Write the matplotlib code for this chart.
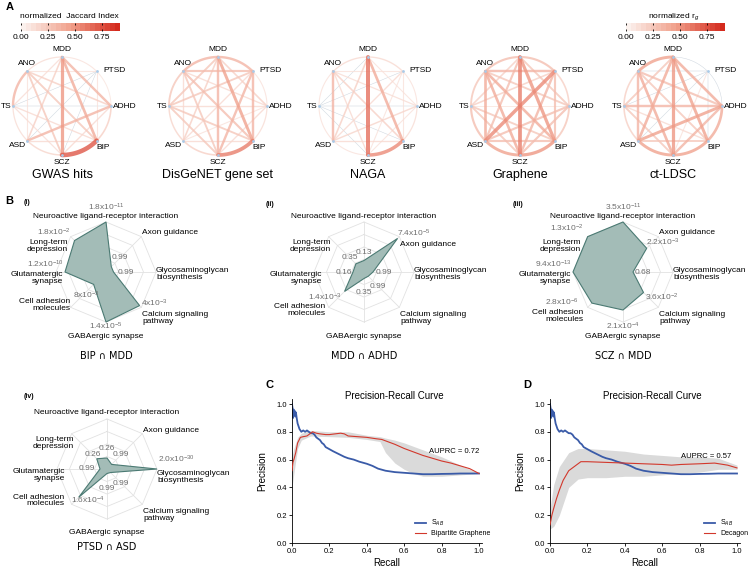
from itertools import combinations

import matplotlib.pyplot as plt
import numpy as np
from matplotlib.cm import ScalarMappable
from matplotlib.colors import LinearSegmentedColormap, Normalize

plt.rcParams['font.family'] = ['Liberation Sans', 'DejaVu Sans']
plt.rcParams['mathtext.fontset'] = 'custom'
plt.rcParams['mathtext.rm'] = 'Liberation Sans'
plt.rcParams['mathtext.it'] = 'Liberation Sans:italic'

# ---------------- data ----------------
disorders = ['MDD', 'PTSD', 'ADHD', 'BIP', 'SCZ', 'ASD', 'TS', 'ANO']
pairs = list(combinations(range(8), 2))

# weights in order of pairs: (0,1),(0,2)...(6,7)
gwas_w = [0.05, 0.3, 0.35, 0.45, 0.15, 0.08, 0.08,
          0.03, 0.05, 0.0, 0.0, 0.0, 0.05,
          0.15, 0.1, 0.3, 0.0, 0.15,
          0.7, 0.1, 0.1, 0.2,
          0.12, 0.08, 0.2,
          0.08, 0.05,
          0.3]
disgenet_w = [0.3, 0.15, 0.4, 0.3, 0.15, 0.2, 0.3,
              0.05, 0.3, 0.3, 0.1, 0.2, 0.25,
              0.08, 0.1, 0.05, 0.1, 0.1,
              0.55, 0.1, 0.2, 0.25,
              0.15, 0.2, 0.2,
              0.12, 0.1,
              0.2]
naga_w = [0.1, 0.05, 0.35, 0.6, 0.15, 0.0, 0.1,
          0.05, 0.05, 0.05, 0.1, 0.0, 0.05,
          0.08, 0.05, 0.12, 0.0, 0.08,
          0.5, 0.1, 0.0, 0.15,
          0.05, 0.0, 0.1,
          0.05, 0.3,
          0.05]
graphene_w = [0.25, 0.2, 0.45, 0.55, 0.25, 0.15, 0.25,
              0.15, 0.25, 0.3, 0.5, 0.15, 0.3,
              0.2, 0.25, 0.25, 0.03, 0.2,
              0.45, 0.25, 0.2, 0.35,
              0.4, 0.2, 0.35,
              0.25, 0.35,
              0.2]
ldsc_w = [0.0, 0.35, 0.4, 0.45, 0.35, 0.2, 0.4,
          0.0, 0.0, 0.05, 0.0, 0.0, 0.0,
          0.35, 0.3, 0.4, 0.3, 0.25,
          0.4, 0.2, 0.1, 0.2,
          0.4, 0.2, 0.35,
          0.15, 0.3,
          0.15]
net_titles = ['GWAS hits', 'DisGeNET gene set', 'NAGA', 'Graphene', 'ct-LDSC']
net_weights = [gwas_w, disgenet_w, naga_w, graphene_w, ldsc_w]

pathways = ['Neuroactive ligand-receptor interaction', 'Axon guidance',
            'Glycosaminoglycan\nbiosynthesis', 'Calcium signaling\npathway',
            'GABAergic synapse', 'Cell adhesion\nmolecules',
            'Glutamatergic\nsynapse', 'Long-term\ndepression']
radar_titles = ['BIP ∩ MDD', 'MDD ∩ ADHD', 'SCZ ∩ MDD', 'PTSD ∩ ASD']
radar_tags = ['(i)', '(ii)', '(iii)', '(iv)']
radar_r = [[1.0, 0.15, 0.15, 0.95, 1.0, 0.35, 0.82, 0.89],
           [0.23, 0.95, 0.18, 0.12, 0.13, 0.55, 0.22, 0.23],
           [1.0, 0.67, 0.2, 0.58, 0.76, 0.88, 1.0, 1.0],
           [0.22, 0.13, 1.0, 0.1, 0.09, 0.8, 0.14, 0.29]]
radar_p = [['1.8x10$^{-11}$', '0.99', '0.99', '4x10$^{-3}$', '1.4x10$^{-5}$',
            '8x10$^{-3}$', '1.2x10$^{-10}$', '1.8x10$^{-2}$'],
           ['0.13', '7.4x10$^{-5}$', '0.99', '0.99', '0.35', '1.4x10$^{-3}$',
            '0.16', '0.35'],
           ['3.5x10$^{-11}$', '2.2x10$^{-3}$', '0.68', '3.6x10$^{-2}$',
            '2.1x10$^{-4}$', '2.8x10$^{-6}$', '9.4x10$^{-13}$', '1.3x10$^{-2}$'],
           ['0.26', '0.99', '2.0x10$^{-30}$', '0.99', '0.99', '1.6x10$^{-4}$',
            '0.99', '0.26']]

sab_recall = [0.0, 0.003, 0.006, 0.009, 0.012, 0.015, 0.018, 0.021, 0.025, 0.03,
              0.035, 0.04, 0.045, 0.05, 0.06, 0.07, 0.08, 0.09, 0.1, 0.11, 0.12,
              0.13, 0.14, 0.15, 0.16, 0.17, 0.18, 0.2, 0.22, 0.25, 0.28, 0.3, 0.33,
              0.36, 0.4, 0.43, 0.46, 0.5, 0.55, 0.6, 0.65, 0.7, 0.75, 0.8, 0.85,
              0.9, 0.95, 1.0]
sab_precision = [1.0, 0.97, 0.9, 0.96, 0.92, 0.95, 0.91, 0.94, 0.9, 0.86, 0.84,
                 0.82, 0.81, 0.8, 0.81, 0.8, 0.81, 0.8, 0.79, 0.79, 0.78, 0.76,
                 0.75, 0.74, 0.72, 0.71, 0.69, 0.675, 0.66, 0.64, 0.62, 0.61, 0.6,
                 0.585, 0.57, 0.555, 0.535, 0.52, 0.51, 0.505, 0.5, 0.495, 0.495,
                 0.497, 0.498, 0.5, 0.5, 0.5]

graphene_recall = [0.0, 0.005, 0.01, 0.02, 0.03, 0.045, 0.06, 0.08, 0.1, 0.11, 0.13,
                   0.15, 0.18, 0.2, 0.23, 0.26, 0.28, 0.3, 0.35, 0.4, 0.45, 0.48,
                   0.5, 0.55, 0.6, 0.65, 0.7, 0.75, 0.8, 0.85, 0.9, 0.95, 1.0]
graphene_precision = [0.52, 0.58, 0.6, 0.65, 0.72, 0.76, 0.765, 0.77, 0.79, 0.8,
                      0.79, 0.785, 0.78, 0.78, 0.785, 0.79, 0.785, 0.77, 0.765,
                      0.76, 0.75, 0.745, 0.735, 0.71, 0.68, 0.655, 0.63, 0.61, 0.59,
                      0.575, 0.555, 0.535, 0.5]
band_c_recall = [0.0, 0.01, 0.03, 0.05, 0.1, 0.2, 0.3, 0.4, 0.47, 0.5, 0.55, 0.6,
                 0.65, 0.7, 0.8, 0.9, 1.0]
band_c_low = [0.4, 0.5, 0.68, 0.74, 0.77, 0.765, 0.76, 0.745, 0.73, 0.65, 0.575,
              0.53, 0.5, 0.48, 0.48, 0.49, 0.5]
band_c_high = [0.62, 0.68, 0.76, 0.79, 0.81, 0.8, 0.8, 0.775, 0.765, 0.755, 0.74,
               0.72, 0.695, 0.67, 0.62, 0.56, 0.5]

decagon_recall = [0.0, 0.01, 0.02, 0.035, 0.05, 0.07, 0.1, 0.13, 0.165, 0.2, 0.3,
                  0.4, 0.5, 0.6, 0.65, 0.7, 0.8, 0.88, 0.95, 1.0]
decagon_precision = [0.13, 0.2, 0.25, 0.32, 0.38, 0.45, 0.52, 0.55, 0.585, 0.585,
                     0.58, 0.575, 0.57, 0.565, 0.56, 0.565, 0.57, 0.575, 0.56, 0.54]
band_d_recall = [0.0, 0.02, 0.05, 0.1, 0.15, 0.2, 0.3, 0.4, 0.5, 0.6, 0.7, 0.8,
                 0.9, 1.0]
band_d_low = [0.1, 0.12, 0.2, 0.4, 0.46, 0.47, 0.47, 0.48, 0.48, 0.49, 0.5, 0.51,
              0.53, 0.53]
band_d_high = [0.25, 0.42, 0.55, 0.65, 0.68, 0.68, 0.67, 0.66, 0.64, 0.63, 0.62,
               0.62, 0.61, 0.56]

# ---------------- figure helpers ----------------
W, H = 748, 568
fig = plt.figure(figsize=(W / 100, H / 100), dpi=100)


def px_axes(x0, y0, w, h):
    return fig.add_axes([x0 / W, 1 - (y0 + h) / H, w / W, h / H])


def ftext(x, y, s, **kw):
    fig.text(x / W, 1 - y / H, s, **kw)


cmap = LinearSegmentedColormap.from_list('edge', ['#fbf1ed', '#f0a08b', '#d42a1d'])
norm = Normalize(0, 0.92)

# ---------------- panel A ----------------
ftext(6, 7, 'A', fontsize=8, fontweight='bold', va='center')
net_x = [62, 218, 368, 520, 673]
R = 49
ang = np.deg2rad(90 - 45 * np.arange(8))
node_x, node_y = np.cos(ang), np.sin(ang)
lab_pos = [(0, 1.08, 'center', 'bottom'), (0.84, 0.72, 'left', 'center'),
           (1.04, 0, 'left', 'center'), (0.7, -0.84, 'left', 'center'),
           (0, -1.08, 'center', 'top'), (-0.74, -0.8, 'right', 'center'),
           (-1.04, 0, 'right', 'center'), (-0.71, 0.86, 'center', 'center')]

for cx, title, w in zip(net_x, net_titles, net_weights):
    ax = px_axes(cx - 70, 106 - 70, 140, 140)
    ax.set_xlim(-70 / R, 70 / R)
    ax.set_ylim(-70 / R, 70 / R)
    ax.axis('off')
    for k in np.argsort(w):
        i, j = pairs[k]
        val = w[k]
        if j - i == 1 or (i == 0 and j == 7):
            a1 = ang[j] + 2 * np.pi if (i == 0 and j == 7) else ang[j]
            t = np.linspace(ang[i], a1, 40)
            xs, ys = np.cos(t), np.sin(t)
        else:
            xs, ys = [node_x[i], node_x[j]], [node_y[i], node_y[j]]
        if val < 0.01:
            ax.plot(xs, ys, color='#cdd5de', lw=0.35, zorder=1)
        else:
            ax.plot(xs, ys, color=cmap(norm(val + 0.04)), lw=0.6 + 3.8 * val,
                    alpha=0.8, solid_capstyle='round', zorder=2)
    ax.scatter(node_x, node_y, s=4, color='#a9cbe9', zorder=5, lw=0)
    for k, name in enumerate(disorders):
        dx, dy, ha, va = lab_pos[k]
        ax.text(dx, dy, name, ha=ha, va=va, fontsize=6, clip_on=False)
    ftext(cx, 175, title, ha='center', va='center', fontsize=9)

for x0, label in [(21, 'normalized  Jaccard Index'), (626, 'normalized r$_g$')]:
    cax = px_axes(x0, 23, 99, 8)
    cb = fig.colorbar(ScalarMappable(norm, cmap.resampled(20)), cax=cax,
                      orientation='horizontal', ticks=[0, 0.25, 0.5, 0.75])
    cb.outline.set_visible(False)
    cb.set_ticklabels(['0.00', '0.25', '0.50', '0.75'])
    cax.tick_params(direction='in', length=1.5, width=0.6, labelsize=6, pad=2,
                    top=True)
    ftext(x0 + 48, 17, label, ha='center', va='center', fontsize=6)

# ---------------- panel B ----------------
ftext(5, 201, 'B', fontsize=8, fontweight='bold', va='center')
radar_pos = [(106, 272, 356), (364, 272, 356), (623, 272, 356), (107, 469, 547)]
tag_pos = [(24, 203), (266, 205), (513, 205), (24, 397)]
axis_lab = [(0, 1.12, 'center'), (0.72, 0.78, 'left'), (1.0, -0.04, 'left'),
            (0.72, -0.92, 'left'), (0, -1.28, 'center'), (-0.66, -0.62, 'right'),
            (-0.84, -0.12, 'right'), (-0.66, 0.52, 'right')]
# hand placement of crowded labels: (chart, axis) -> (x, y, ha)
value_fix = {(0, 5): (-0.66, -0.46, 'left'), (2, 5): (-0.88, -0.6, 'right'),
             (3, 5): (-0.72, -0.63, 'left')}
axis_fix = {(0, 5): (-0.72, -0.66), (1, 5): (-0.78, -0.76), (2, 5): (-0.8, -0.88),
            (3, 5): (-0.86, -0.63)}
u = np.deg2rad(90 - 45 * np.arange(8))
ux, uy = np.cos(u), np.sin(u)
fs_b = 6

for n in range(4):
    cx, cy, ty = radar_pos[n]
    r = np.array(radar_r[n])
    ax = px_axes(cx - 110, cy - 85, 220, 170)
    ax.set_xlim(-2.2, 2.2)
    ax.set_ylim(-1.7, 1.7)
    ax.axis('off')
    for ring in [0.25, 0.5, 0.75, 1.0]:
        ax.plot(np.append(ux, ux[0]) * ring, np.append(uy, uy[0]) * ring,
                color='#e2e2e2', lw=0.6, zorder=1)
    for k in range(8):
        ax.plot([0, ux[k]], [0, uy[k]], color='#e2e2e2', lw=0.6, zorder=1)
    ax.fill(r * ux, r * uy, facecolor='#a3bcb7', edgecolor='#4b7a73', lw=0.8,
            zorder=2)
    for k in range(8):
        px, py = r[k] * ux[k], r[k] * uy[k]
        lx, ly, lha = axis_lab[k]
        if r[k] < 0.45:
            vx, vy, vha = 0.4 * ux[k], 0.4 * uy[k], 'center'
        elif k == 0:
            vx, vy, vha = 0, 1.3, 'center'
        elif k == 1:
            vx, vy, vha = px - 0.02, py + 0.11, 'left'
            if r[k] > 0.8:
                ly = py - 0.12
        elif k == 2:
            vx, vy, vha = px + 0.02, 0.2, 'left'
            ly = -0.16
        elif k == 3:
            vx, vy, vha = px + 0.02, (py + 0.05 if r[k] > 0.8 else py - 0.09), 'left'
        elif k == 4:
            vx, vy, vha = 0, -1.08, 'center'
        elif k == 5:
            vx, vy, vha = px - 0.05, py - 0.11, 'right'
        elif k == 6:
            vx, vy, vha = px - 0.02, 0.16, 'right'
            lx = min(lx, px - 0.04)
        else:
            vx, vy, vha = px - 0.08, py + 0.17, 'right'
            lx = min(lx, px - 0.14)
        if (n, k) in value_fix:
            vx, vy, vha = value_fix[(n, k)]
        if (n, k) in axis_fix:
            lx, ly = axis_fix[(n, k)]
        ax.text(vx, vy, radar_p[n][k], ha=vha, va='center', fontsize=fs_b,
                color='#6e6e6e', zorder=4)
        ax.text(lx, ly, pathways[k], ha=lha, va='center', fontsize=fs_b,
                linespacing=0.95, zorder=4)
    ftext(cx, ty, radar_titles[n], ha='center', va='center', fontsize=7,
          family=['DejaVu Sans'])
    ftext(tag_pos[n][0], tag_pos[n][1], radar_tags[n], fontsize=5,
          fontweight='bold', va='center')

# ---------------- panels C, D ----------------
pr_panels = [(292, 'C', graphene_recall, graphene_precision, band_c_recall,
              band_c_low, band_c_high, 'Bipartite Graphene', 'AUPRC = 0.72',
              (1.0, 0.635)),
             (550, 'D', decagon_recall, decagon_precision, band_d_recall,
              band_d_low, band_d_high, 'Decagon', 'AUPRC = 0.57', (0.97, 0.6))]
for x0, letter, mr, mp, br, blo, bhi, mname, auprc, txy in pr_panels:
    ax = px_axes(x0, 399, 190, 144)
    ax.fill_between(br, blo, bhi, color='#dadada', lw=0, zorder=1)
    ax.plot(sab_recall, sab_precision, color='#3a5ba8', lw=1.3, label='S$_{AB}$',
            zorder=2)
    ax.plot(mr, mp, color='#d2382c', lw=0.8, label=mname, zorder=3)
    ax.set_xlim(0, 1.016)
    ax.set_ylim(0, 1.036)
    ticks = [0, 0.2, 0.4, 0.6, 0.8, 1.0]
    ax.set_xticks(ticks)
    ax.set_yticks(ticks)
    ax.set_xticklabels([f'{t:.1f}' for t in ticks])
    ax.set_yticklabels([f'{t:.1f}' for t in ticks])
    for side in ['top', 'right']:
        ax.spines[side].set_visible(False)
    for side in ['left', 'bottom']:
        ax.spines[side].set_linewidth(0.6)
    ax.tick_params(length=2, width=0.6, labelsize=5.5, pad=1.5)
    ax.set_xlabel('Recall', fontsize=7, labelpad=2)
    ax.set_ylabel('Precision', fontsize=7, labelpad=7)
    ax.text(txy[0], txy[1], auprc, ha='right', va='bottom', fontsize=5.5)
    ax.legend(loc='lower right', bbox_to_anchor=(1.06, 0.02), frameon=False,
              fontsize=5, handlelength=1.6, labelspacing=0.3, borderaxespad=0)
    ftext(x0 + 102, 396, 'Precision-Recall Curve', ha='center', va='center',
          fontsize=7)
    ftext(x0 - 27, 385, letter, fontsize=8, fontweight='bold', va='center')

fig.savefig('out.png', dpi=100)
